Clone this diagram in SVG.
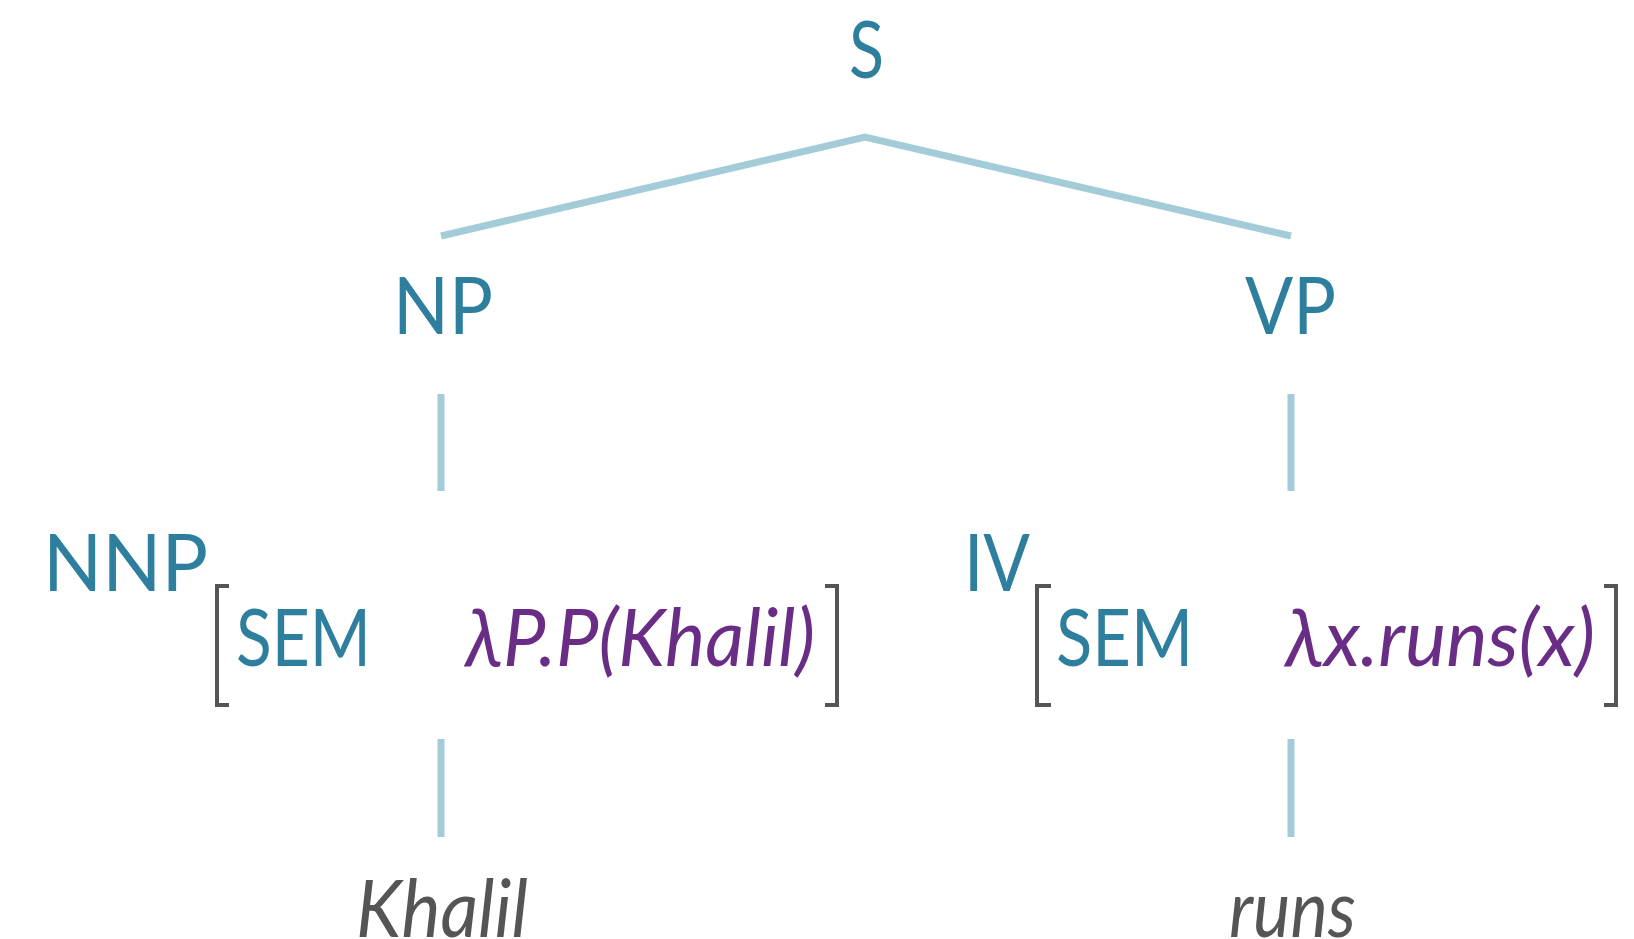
<svg xmlns="http://www.w3.org/2000/svg" width="1634" height="939" viewBox="0 0 1634 939">
<style>
.cat{font-family:Lato,"Open Sans","DejaVu Sans",sans-serif;font-size:80px;fill:#2E7F9E}
.sem{font-family:Lato,"Open Sans","DejaVu Sans",sans-serif;font-size:80px;font-style:italic;fill:#6A2D86}
.word{font-family:Lato,"Open Sans","DejaVu Sans",sans-serif;font-size:80px;font-style:italic;fill:#555555}
.edge{stroke:#A3CCD8;stroke-width:7;fill:none}
.br{stroke:#555555;stroke-width:4;fill:none}
</style>
<rect width="1634" height="939" fill="#ffffff"/>
<g id="connectors">
<polyline class="edge" points="441,236 865,137 1291,236"/>
<line class="edge" x1="441" y1="394" x2="441" y2="491"/>
<line class="edge" x1="1291" y1="394" x2="1291" y2="491"/>
<line class="edge" x1="441" y1="739" x2="441" y2="837"/>
<line class="edge" x1="1291" y1="739" x2="1291" y2="837"/>
</g>
<g id="S"><text class="cat" x="849" y="78" textLength="35" lengthAdjust="spacingAndGlyphs">S</text></g>
<g id="NP"><text class="cat" x="393" y="334" textLength="100" lengthAdjust="spacingAndGlyphs">NP</text></g>
<g id="VP"><text class="cat" x="1245" y="334" textLength="91" lengthAdjust="spacingAndGlyphs">VP</text></g>
<g id="NNP">
<text class="cat" x="43" y="591" textLength="165" lengthAdjust="spacingAndGlyphs">NNP</text>
<path class="br" d="M229,586 H217 V705 H229"/>
<path class="br" d="M825,586 H837 V705 H825"/>
<text class="cat" x="236" y="666" textLength="135" lengthAdjust="spacingAndGlyphs">SEM</text>
<text class="sem" x="465" y="666" textLength="350" lengthAdjust="spacingAndGlyphs">λP.P(Khalil)</text>
</g>
<g id="IV">
<text class="cat" x="964" y="591" textLength="66" lengthAdjust="spacingAndGlyphs">IV</text>
<path class="br" d="M1051,586 H1037 V705 H1051"/>
<path class="br" d="M1604,586 H1616 V705 H1604"/>
<text class="cat" x="1056" y="666" textLength="137" lengthAdjust="spacingAndGlyphs">SEM</text>
<text class="sem" x="1285" y="666" textLength="310" lengthAdjust="spacingAndGlyphs">λx.runs(x)</text>
</g>
<g id="Khalil"><text class="word" x="356" y="937" textLength="172" lengthAdjust="spacingAndGlyphs">Khalil</text></g>
<g id="runs"><text class="word" x="1229" y="937" textLength="127" lengthAdjust="spacingAndGlyphs">runs</text></g>
</svg>
